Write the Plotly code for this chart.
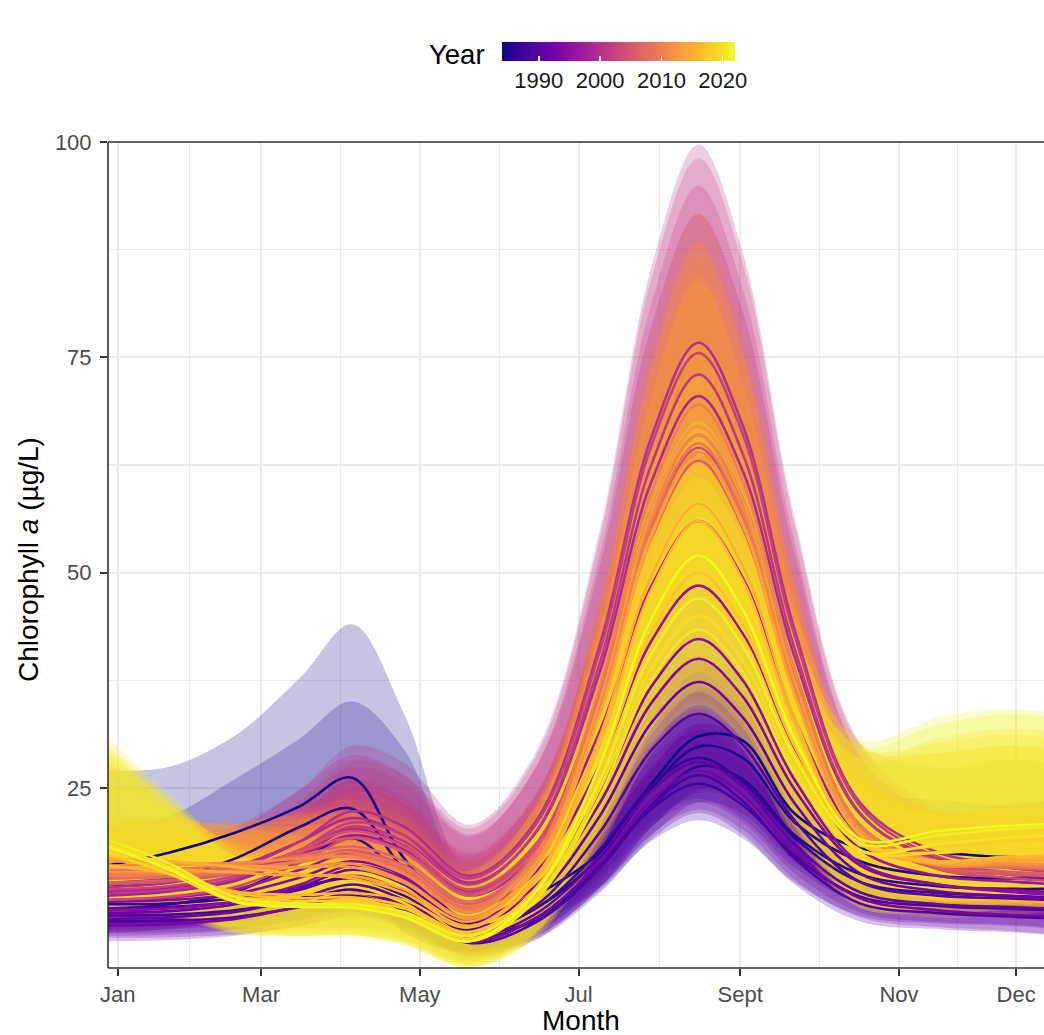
import plotly.graph_objects as go
from plotly.colors import sample_colorscale

FONT = "Liberation Sans, Arial, sans-serif"

W, H = 1044, 1035
PL, PT, PB = 108, 142, 968          # panel left / top / bottom in px
PW, PH = W - PL, PB - PT

DAYS = [1, 25, 50, 75, 95, 115, 140, 165, 190, 210, 228, 245, 265, 290, 320, 345, 365]

MONTH_TICKS = [5, 60, 121, 182, 244, 305, 350]
MONTH_LABELS = ["Jan", "Mar", "May", "Jul", "Sept", "Nov", "Dec"]
MONTH_MINOR = [32.5, 90.5, 151.5, 213, 274.5, 327.5]
Y_TICKS = [25, 50, 75, 100]
Y_MINOR = [12.5, 37.5, 62.5, 87.5]
YEAR_TICKS = [1990, 2000, 2010, 2020]

YEARS = list(range(1984, 2023))

# fitted chlorophyll a (ug/L) per year at DAYS
y1984 = [16.0, 17.5, 19.8, 22.9, 26.2, 16.8, 9.5, 12.5, 17.5, 25.5, 31.0, 30.5, 22.0, 18.0, 17.5, 17.0, 17.0]
y1985 = [13.5, 14.5, 16.8, 20.5, 22.6, 15.5, 9.2, 11.0, 17.0, 25.0, 29.8, 28.5, 21.0, 16.5, 14.8, 14.5, 14.5]
y1986 = [11.0, 11.5, 12.9, 16.5, 19.2, 14.5, 8.8, 9.5, 16.0, 23.0, 27.5, 26.0, 19.5, 15.0, 13.6, 13.3, 13.3]
y1987 = [11.5, 11.6, 12.2, 13.5, 14.5, 12.5, 8.5, 10.9, 17.8, 25.3, 28.5, 25.7, 19.2, 14.1, 12.8, 12.5, 12.3]
y1988 = [10.2, 10.3, 10.8, 12.0, 13.2, 11.3, 7.5, 9.8, 15.9, 22.6, 25.5, 23.0, 17.1, 12.4, 11.3, 11.0, 10.8]
y1989 = [9.5, 9.6, 10.0, 11.2, 12.5, 10.8, 7.0, 9.3, 15.6, 22.9, 26.5, 23.5, 16.8, 11.6, 10.5, 10.1, 9.9]
y1990 = [11.0, 11.2, 11.8, 13.2, 14.8, 13.0, 8.2, 11.2, 19.8, 29.4, 33.6, 30.0, 21.2, 14.1, 12.5, 12.2, 12.0]
y1991 = [9.8, 10.0, 10.6, 12.2, 13.8, 12.0, 7.8, 10.3, 17.1, 24.7, 28.0, 25.2, 18.4, 12.9, 11.5, 11.2, 11.0]
y1992 = [10.5, 10.7, 11.5, 13.5, 15.5, 13.8, 8.8, 12.1, 21.7, 32.6, 37.3, 33.2, 23.2, 15.1, 13.0, 12.5, 12.2]
y1993 = [9.0, 9.2, 9.8, 11.3, 12.8, 11.2, 7.2, 9.8, 16.3, 23.6, 27.0, 24.2, 17.5, 12.2, 10.8, 10.3, 10.0]
y1994 = [11.8, 12.0, 12.7, 14.6, 16.5, 14.8, 9.5, 13.0, 23.2, 34.9, 40.0, 35.6, 24.8, 16.0, 13.8, 13.2, 12.9]
y1995 = [10.8, 11.0, 11.8, 13.8, 16.0, 14.5, 9.8, 13.5, 24.4, 36.8, 42.3, 37.5, 25.9, 16.3, 13.8, 13.0, 12.6]
y1996 = [12.0, 12.3, 13.2, 15.5, 17.5, 16.0, 11.0, 15.1, 27.6, 42.1, 48.5, 42.9, 29.2, 17.9, 14.8, 14.2, 13.8]
y1997 = [13.0, 13.4, 14.4, 17.0, 19.5, 17.8, 12.5, 17.1, 31.5, 48.5, 56.0, 49.4, 33.0, 19.4, 15.8, 15.0, 14.5]
y1998 = [12.5, 13.0, 14.2, 17.2, 20.2, 18.3, 13.0, 18.1, 34.9, 54.7, 63.5, 55.7, 36.5, 20.4, 16.0, 15.2, 14.8]
y1999 = [14.0, 14.5, 15.8, 18.8, 21.5, 19.5, 14.0, 19.6, 38.4, 60.6, 70.5, 61.8, 40.1, 22.0, 16.8, 15.8, 15.3]
y2000 = [13.5, 14.0, 15.5, 18.8, 22.3, 20.5, 14.8, 20.9, 41.5, 65.8, 76.7, 67.1, 43.3, 23.3, 17.5, 16.3, 15.8]
y2001 = [12.8, 13.2, 14.5, 17.5, 20.5, 18.8, 13.8, 19.7, 39.4, 62.6, 73.0, 63.8, 41.1, 22.1, 16.5, 15.3, 14.8]
y2002 = [13.2, 13.6, 14.8, 17.8, 21.0, 19.5, 14.5, 20.5, 40.8, 64.8, 75.5, 66.1, 42.6, 22.9, 17.0, 15.8, 15.2]
y2003 = [12.0, 12.4, 13.5, 16.3, 19.2, 17.6, 12.8, 18.1, 35.8, 56.7, 66.0, 57.8, 37.5, 20.5, 15.6, 14.6, 14.2]
y2004 = [13.8, 14.2, 15.2, 17.8, 20.0, 18.2, 13.2, 18.3, 35.4, 55.6, 64.5, 56.6, 37.1, 20.7, 16.0, 15.2, 14.8]
y2005 = [14.5, 14.8, 15.6, 17.6, 19.2, 17.5, 12.5, 17.7, 34.7, 54.6, 63.5, 55.7, 36.3, 20.1, 15.6, 15.0, 14.8]
y2006 = [14.0, 14.3, 15.0, 16.6, 17.8, 16.0, 11.5, 16.9, 34.1, 54.1, 63.0, 55.2, 36.0, 20.1, 15.8, 15.3, 15.0]
y2007 = [15.0, 15.2, 15.8, 17.2, 18.2, 16.5, 11.8, 17.2, 34.7, 55.0, 64.0, 56.1, 36.6, 20.4, 16.2, 15.8, 15.5]
y2008 = [14.5, 14.7, 15.2, 16.4, 17.2, 15.5, 11.0, 16.9, 35.6, 57.4, 67.0, 58.6, 37.8, 20.6, 16.2, 15.8, 15.6]
y2009 = [15.5, 15.6, 16.0, 17.0, 17.5, 15.8, 11.2, 16.9, 34.8, 55.8, 65.0, 56.9, 37.0, 20.5, 16.5, 16.2, 16.0]
y2010 = [14.8, 15.0, 15.5, 16.5, 17.0, 15.2, 10.8, 17.0, 36.6, 59.4, 69.5, 60.6, 38.8, 20.7, 16.3, 16.0, 15.8]
y2011 = [16.0, 16.1, 16.3, 16.8, 17.0, 15.0, 10.5, 16.4, 34.9, 56.5, 66.0, 57.6, 37.1, 20.1, 16.2, 16.2, 16.0]
y2012 = [15.2, 15.2, 15.3, 15.8, 16.2, 14.2, 10.0, 15.8, 33.8, 54.7, 64.0, 55.9, 36.0, 19.5, 16.0, 16.2, 16.2]
y2013 = [16.5, 16.3, 16.0, 15.8, 15.8, 14.0, 9.8, 15.9, 35.0, 57.2, 67.0, 58.4, 37.4, 20.1, 16.5, 16.8, 16.8]
y2014 = [15.8, 15.6, 15.2, 14.8, 14.8, 13.2, 9.5, 15.4, 33.4, 54.3, 63.5, 55.5, 35.7, 19.5, 16.2, 16.5, 16.6]
y2015 = [16.8, 16.5, 15.8, 15.0, 14.5, 12.8, 9.0, 14.5, 30.9, 49.7, 58.0, 50.8, 33.1, 18.6, 16.3, 16.8, 17.0]
y2016 = [16.0, 15.0, 13.0, 12.6, 12.8, 12.0, 8.8, 14.1, 29.9, 48.1, 56.0, 49.1, 32.4, 18.9, 16.5, 17.0, 17.2]
y2017 = [17.2, 15.4, 12.8, 12.2, 12.3, 11.3, 8.3, 13.2, 27.3, 43.1, 50.0, 44.0, 29.8, 18.5, 17.5, 18.0, 18.2]
y2018 = [18.0, 15.6, 12.5, 11.9, 11.9, 11.0, 8.0, 12.9, 26.3, 41.4, 48.0, 42.4, 29.0, 18.5, 18.2, 18.8, 19.0]
y2019 = [17.5, 15.0, 11.8, 11.3, 11.5, 10.5, 7.5, 12.2, 24.8, 38.9, 45.0, 39.8, 27.4, 17.8, 17.5, 18.0, 18.3]
y2020 = [18.5, 15.8, 12.0, 11.4, 11.4, 10.3, 7.2, 11.8, 24.0, 37.6, 43.4, 38.4, 26.7, 17.7, 18.5, 19.2, 19.5]
y2021 = [19.0, 16.2, 12.3, 11.6, 11.5, 10.6, 7.8, 12.7, 25.8, 40.6, 47.0, 41.5, 28.5, 18.6, 19.5, 20.2, 20.5]
y2022 = [18.2, 15.5, 11.8, 11.2, 11.1, 10.0, 7.2, 12.7, 27.6, 44.7, 52.0, 45.7, 30.7, 19.1, 20.0, 20.6, 20.8]

FITS = [y1984, y1985, y1986, y1987, y1988, y1989, y1990, y1991, y1992, y1993,
        y1994, y1995, y1996, y1997, y1998, y1999, y2000, y2001, y2002, y2003,
        y2004, y2005, y2006, y2007, y2008, y2009, y2010, y2011, y2012, y2013,
        y2014, y2015, y2016, y2017, y2018, y2019, y2020, y2021, y2022]

# confidence band width as upper/fit ratio (lower = fit / ratio), read at DAYS
RIB_1984 = [1.69, 1.57, 1.57, 1.65, 1.68, 2.0, 1.6, 1.4, 1.3, 1.25, 1.25, 1.25, 1.3, 1.35, 1.35, 1.35, 1.4]
RIB_1985 = [1.5, 1.5, 1.55, 1.5, 1.55, 1.9, 1.5, 1.35, 1.25, 1.22, 1.22, 1.22, 1.25, 1.3, 1.3, 1.3, 1.35]
RIB_1986 = [1.35, 1.33, 1.33, 1.33, 1.35, 1.4, 1.35, 1.28, 1.2, 1.18, 1.18, 1.18, 1.2, 1.25, 1.25, 1.25, 1.3]
RIB_PURPLE = [1.25, 1.25, 1.25, 1.25, 1.25, 1.25, 1.3, 1.28, 1.22, 1.2, 1.2, 1.2, 1.22, 1.22, 1.22, 1.22, 1.25]
RIB_MAGENTA = [1.3, 1.3, 1.3, 1.32, 1.34, 1.36, 1.4, 1.38, 1.32, 1.3, 1.3, 1.3, 1.3, 1.3, 1.3, 1.3, 1.32]
RIB_MAGENTA_N = [1.25, 1.25, 1.25, 1.27, 1.28, 1.3, 1.33, 1.32, 1.27, 1.25, 1.25, 1.25, 1.25, 1.25, 1.25, 1.25, 1.27]
RIB_ORANGE = [1.3, 1.3, 1.3, 1.3, 1.3, 1.32, 1.35, 1.35, 1.3, 1.3, 1.32, 1.3, 1.3, 1.32, 1.35, 1.38, 1.4]
RIB_YELLOW = [1.62, 1.5, 1.45, 1.45, 1.45, 1.5, 1.75, 1.6, 1.35, 1.3, 1.3, 1.3, 1.4, 1.6, 1.66, 1.66, 1.62]

RIBBONS = ([RIB_1984, RIB_1985, RIB_1986] + [RIB_PURPLE] * 9 + [RIB_MAGENTA_N] * 3
           + [RIB_MAGENTA] * 4 + [RIB_MAGENTA_N] * 3 + [RIB_ORANGE] * 10 + [RIB_YELLOW] * 7)

YMIN, YMAX = min(YEARS), max(YEARS)
RIBBON_ALPHA = 0.24


def plasma(year, alpha=None):
    c = sample_colorscale("Plasma", [(year - YMIN) / (YMAX - YMIN)])[0]
    r, g, b = [float(v) for v in c[c.index("(") + 1:-1].split(",")]
    if alpha is None:
        return f"rgb({r:.0f},{g:.0f},{b:.0f})"
    return f"rgba({r:.0f},{g:.0f},{b:.0f},{alpha})"


fig = go.Figure()

# ribbons
for year, fit, rib in zip(YEARS, FITS, RIBBONS):
    lower = [f / k for f, k in zip(fit, rib)]
    upper = [f * k for f, k in zip(fit, rib)]
    fig.add_trace(go.Scatter(x=DAYS, y=lower, mode="lines",
                             line=dict(width=0, shape="spline"),
                             hoverinfo="skip", showlegend=False))
    fig.add_trace(go.Scatter(x=DAYS, y=upper, mode="lines", fill="tonexty",
                             fillcolor=plasma(year, RIBBON_ALPHA),
                             line=dict(width=0, shape="spline"),
                             hoverinfo="skip", showlegend=False))

# fitted lines
for year, fit in zip(YEARS, FITS):
    fig.add_trace(go.Scatter(x=DAYS, y=fit, mode="lines",
                             line=dict(color=plasma(year), width=2.6, shape="spline"),
                             name=str(year), showlegend=False))

# colour bar (bar: px x 502..735, y 42..61); container x is scaled by plot width
fig.add_trace(go.Scatter(
    x=[-500], y=[-500], mode="markers", showlegend=False, hoverinfo="skip",
    marker=dict(color=[YMIN], colorscale="Plasma", cmin=YMIN, cmax=YMAX, showscale=True,
                colorbar=dict(orientation="h", xref="container", yref="container",
                              x=502 / PW, xanchor="left", y=1 - 42 / H, yanchor="top",
                              len=233, lenmode="pixels", thickness=19, thicknessmode="pixels",
                              outlinewidth=0, ticks="inside", ticklen=5, tickcolor="white",
                              tickwidth=1.5, tickvals=YEAR_TICKS, xpad=0, ypad=0,
                              tickfont=dict(family=FONT, size=22, color="#1a1a1a")))))

axis_common = dict(
    showgrid=True, gridcolor="#ebebeb", gridwidth=2, zeroline=False,
    showline=False, automargin=False, mirror=False,
    ticks="outside", ticklen=7, tickwidth=2.2, tickcolor="#333333",
    tickfont=dict(family=FONT, size=22, color="#4d4d4d"),
)

fig.update_xaxes(range=[1.24, 360.7], tickmode="array", tickvals=MONTH_TICKS,
                 ticktext=MONTH_LABELS, ticklabelstandoff=0,
                 minor=dict(tickmode="array", tickvals=MONTH_MINOR, showgrid=True,
                            gridcolor="#ebebeb", gridwidth=1.1, ticks=""),
                 **axis_common)
fig.update_yaxes(range=[4.1, 100], tickmode="array", tickvals=Y_TICKS,
                 ticklabelstandoff=4,
                 minor=dict(tickmode="array", tickvals=Y_MINOR, showgrid=True,
                            gridcolor="#ebebeb", gridwidth=1.1, ticks=""),
                 **axis_common)

# panel border: left, bottom, top (right side runs off the picture)
BORDER = dict(color="#333333", width=1.6)
fig.add_shape(type="line", xref="paper", yref="paper", x0=0, x1=0, y0=0, y1=1, line=BORDER)
fig.add_shape(type="line", xref="paper", yref="paper", x0=0, x1=1, y0=0, y1=0, line=BORDER)
fig.add_shape(type="line", xref="paper", yref="paper", x0=0, x1=1, y0=1, y1=1, line=BORDER)


def px_x(x):
    return (x - PL) / PW


def px_y(y):
    return (PB - y) / PH


fig.add_annotation(text="Year", xref="paper", yref="paper", x=px_x(487), xanchor="right",
                   y=px_y(55), yanchor="middle", showarrow=False,
                   font=dict(family=FONT, size=27.5, color="black"))
fig.add_annotation(text="Chlorophyll <i>a</i> (µg/L)", xref="paper", yref="paper",
                   x=px_x(28), xanchor="center", y=px_y(560), yanchor="middle",
                   textangle=-90, showarrow=False,
                   font=dict(family=FONT, size=28, color="black"))
fig.add_annotation(text="Month", xref="paper", yref="paper", x=px_x(581), xanchor="center",
                   y=px_y(1021), yanchor="middle", showarrow=False,
                   font=dict(family=FONT, size=28, color="black"))

fig.update_layout(width=W, height=H, margin=dict(l=PL, r=0, t=PT, b=H - PB),
                  paper_bgcolor="white", plot_bgcolor="white", showlegend=False,
                  font=dict(family=FONT), hovermode=False)

fig.write_html("out.html",
               config={"displayModeBar": False, "staticPlot": True},
               post_script="document.body.style.margin='0';"
                           "document.body.style.overflow='hidden';")
